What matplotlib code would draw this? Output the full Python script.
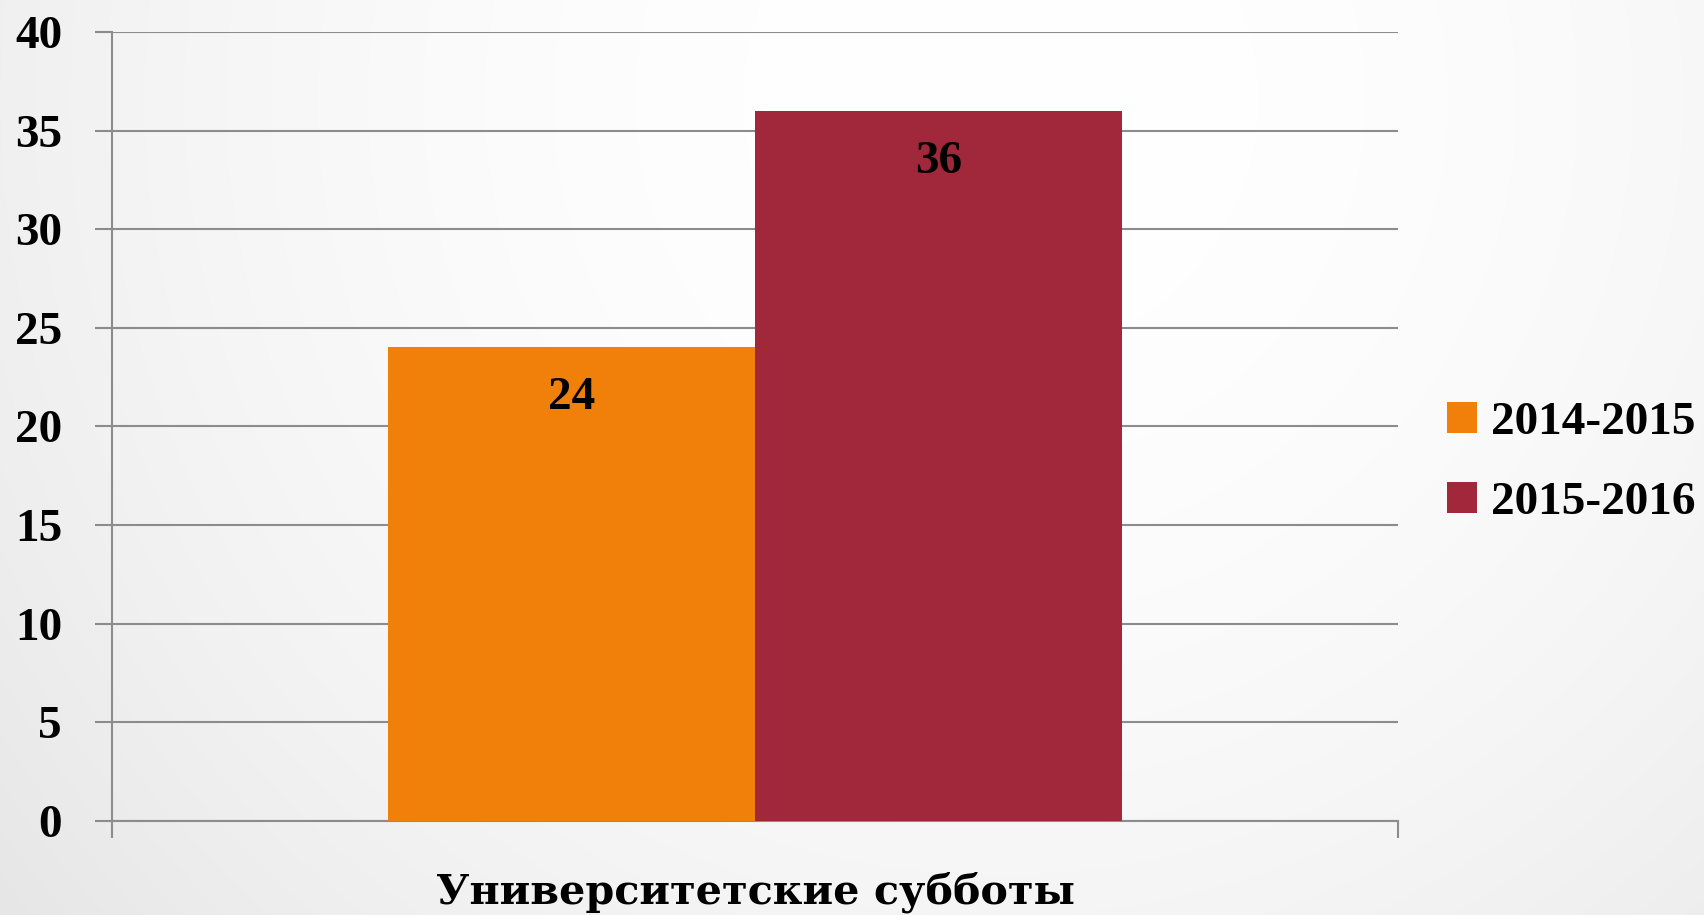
import numpy as np
import matplotlib
matplotlib.use("Agg")
import matplotlib.pyplot as plt
from matplotlib.patches import Patch

category = "Университетские субботы"
series_names = ["2014-2015", "2015-2016"]
values = [24, 36]
colors = ["#F0800A", "#A0283A"]
y_ticks = [0, 5, 10, 15, 20, 25, 30, 35, 40]

plt.rcParams['font.family'] = ['Liberation Serif', 'DejaVu Serif']
plt.rcParams['font.weight'] = 'bold'

W, H = 1704, 915
fig = plt.figure(figsize=(W / 100, H / 100), dpi=100)

# background gradient
bg = fig.add_axes([0, 0, 1, 1], zorder=-10)
yy, xx = np.mgrid[0:H, 0:W]
r = np.sqrt((xx - 1000) ** 2 + (yy - 100) ** 2) / 1290.0
v = (255 - 25 * r ** 2) / 255.0
v = np.clip(v, 0, 1)
bg.imshow(np.dstack([v, v, v]), aspect='auto', extent=[0, 1, 0, 1], origin='upper')
bg.axis('off')

ax = fig.add_axes([112 / W, 1 - 820.7 / H, (1398 - 112) / W, (820.7 - 32) / H])
ax.patch.set_alpha(0)

n = len(values)
w = 1 / 3.5
offsets = (np.arange(n) - (n - 1) / 2) * w
for i in range(n):
    ax.bar(offsets[i], values[i], width=w, color=colors[i], zorder=3, label=series_names[i])
    ax.annotate(str(values[i]), xy=(offsets[i], values[i]), xytext=(0, -36.5),
                textcoords='offset points', ha='center', va='center',
                fontsize=34, fontweight='bold', color='black', zorder=4)

ax.set_xlim(-0.5, 0.5)
ax.set_ylim(0, 40)
ax.set_yticks(y_ticks)
ax.yaxis.grid(True, color='#8c8c8c', linewidth=1.5, zorder=0)
ax.set_axisbelow(True)
ax.tick_params(axis='y', length=12, width=1.5, color='#8c8c8c', pad=24, labelsize=34)
ax.set_xticks([-0.5, 0.5])
ax.set_xticklabels(['', ''])
ax.tick_params(axis='x', length=12, width=1.5, color='#8c8c8c')
for s in ['top', 'right']:
    ax.spines[s].set_visible(False)
for s in ['left', 'bottom']:
    ax.spines[s].set_color('#8c8c8c')
    ax.spines[s].set_linewidth(1.5)
fig.text(0.5 * (112 + 1398) / W, 1 - 892 / H, category, ha='center', va='center',
         fontsize=29.7, fontweight='bold', family=['DejaVu Serif'])

handles = [Patch(facecolor=c, edgecolor='none') for c in colors]
fig.legend(handles, series_names, loc='center left',
           bbox_to_anchor=(1447 / W, 1 - 463 / H), frameon=False,
           fontsize=34, handlelength=0.64, handleheight=0.64,
           handletextpad=0.3, labelspacing=0.8, borderpad=0, borderaxespad=0)

fig.savefig('out.png', dpi=100)
